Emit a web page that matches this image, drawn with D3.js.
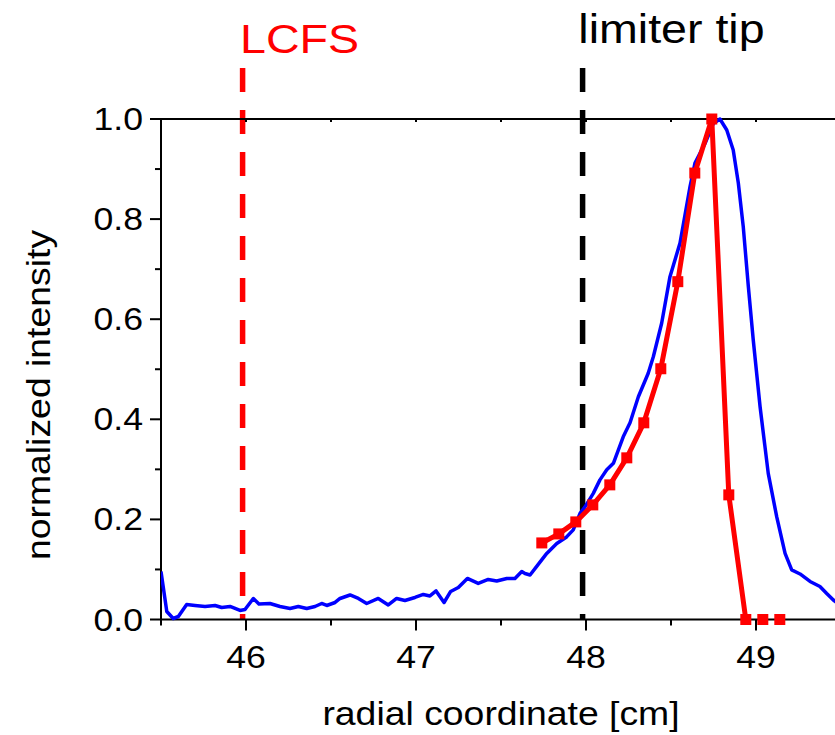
<!DOCTYPE html>
<html>
<head>
<meta charset="utf-8">
<script src="https://cdn.jsdelivr.net/npm/d3@7"></script>
<style>
  body { margin: 0; background: #fff; }
  text { font-family: "Liberation Sans", Arial, sans-serif; }
</style>
</head>
<body>
<svg id="chart" width="835" height="735"></svg>
<script>

// measured profile (blue)
var profileX = [45.50, 45.534, 45.572, 45.602, 45.651, 45.700, 45.759, 45.818, 45.857, 45.906,
    45.965, 45.994, 46.043, 46.076, 46.141, 46.200, 46.259, 46.308, 46.357, 46.406,
    46.445, 46.475, 46.524, 46.553, 46.612, 46.661, 46.710, 46.778, 46.837, 46.886,
    46.935, 46.994, 47.043, 47.082, 47.118, 47.165, 47.204, 47.249, 47.302, 47.366,
    47.425, 47.475, 47.534, 47.582, 47.622, 47.641, 47.671, 47.710, 47.769, 47.828,
    47.886, 47.925, 47.965, 47.994, 48.043, 48.082, 48.122, 48.161, 48.219, 48.259,
    48.308, 48.366, 48.396, 48.445, 48.494, 48.553, 48.612, 48.641, 48.700, 48.749,
    48.788, 48.828, 48.866, 48.896, 48.925, 48.955, 48.984, 49.024, 49.072, 49.122,
    49.171, 49.210, 49.259, 49.318, 49.376, 49.416, 49.455, 49.494];
var profileY = [0.096, 0.016, 0.002, 0.006, 0.030, 0.028, 0.026, 0.028, 0.024, 0.026,
    0.018, 0.020, 0.042, 0.031, 0.032, 0.026, 0.022, 0.026, 0.022, 0.026,
    0.032, 0.028, 0.034, 0.042, 0.049, 0.042, 0.032, 0.042, 0.029, 0.042,
    0.038, 0.044, 0.050, 0.047, 0.057, 0.034, 0.056, 0.064, 0.082, 0.072,
    0.080, 0.077, 0.082, 0.082, 0.096, 0.092, 0.089, 0.106, 0.132, 0.152,
    0.165, 0.179, 0.212, 0.225, 0.252, 0.279, 0.299, 0.312, 0.365, 0.393,
    0.445, 0.492, 0.525, 0.592, 0.685, 0.752, 0.865, 0.912, 0.951, 0.991,
    1.000, 0.978, 0.938, 0.872, 0.785, 0.665, 0.558, 0.425, 0.292, 0.205,
    0.132, 0.099, 0.091, 0.076, 0.066, 0.052, 0.039, 0.029];

// simulation (red squares)
var simX = [47.74, 47.84, 47.94, 48.04, 48.14, 48.24, 48.34, 48.44, 48.54, 48.64,
    48.74, 48.84, 48.94, 49.04, 49.14];
var simY = [0.153, 0.171, 0.195, 0.229, 0.269, 0.323, 0.393, 0.501, 0.675, 0.892,
    1.000, 0.249, 0.000, 0.000, 0.000];
var simLineCount = 13;

var xMajor = [46, 47, 48, 49];
var xMinor = [45.5, 46.5, 47.5, 48.5, 49.5];
var yMajor = [0, 0.2, 0.4, 0.6, 0.8, 1.0];
var yMinor = [0.1, 0.3, 0.5, 0.7, 0.9];

var markers = [
    { x: 45.98, label: 'LCFS', color: '#ff0000', labelX: 45.965, labelY: 53 },
    { x: 47.98, label: 'limiter tip', color: '#000000', labelX: 47.955, labelY: 43 }
];

var svg = d3.select('#chart');

var x = d3.scaleLinear().domain([45.5, 49.5]).range([161, 841]);
var y = d3.scaleLinear().domain([0, 1]).range([619.5, 119]);

var stretch = 1.15;

svg.append('defs').append('clipPath')
    .attr('id', 'plot-clip')
    .append('rect')
    .attr('x', x(45.5)).attr('y', 0)
    .attr('width', 700).attr('height', 735);

// dashed reference lines
svg.selectAll('.ref')
    .data(markers)
    .enter().append('line')
    .attr('class', 'ref')
    .attr('x1', function (d) { return x(d.x); })
    .attr('x2', function (d) { return x(d.x); })
    .attr('y1', 68)
    .attr('y2', y(0))
    .attr('stroke', function (d) { return d.color; })
    .attr('stroke-width', 5.5)
    .attr('stroke-dasharray', '24,18');

svg.selectAll('.ref-label')
    .data(markers)
    .enter().append('text')
    .attr('class', 'ref-label')
    .attr('transform', function (d) {
        return 'translate(' + x(d.labelX) + ',' + d.labelY + ') scale(' + stretch + ',1)';
    })
    .attr('font-size', 40.5)
    .attr('fill', function (d) { return d.color; })
    .text(function (d) { return d.label; });

// axes frame
var frame = svg.append('g').attr('stroke', '#000').attr('stroke-width', 2);

frame.append('line')
    .attr('x1', x(45.5)).attr('x2', x(45.5))
    .attr('y1', y(1)).attr('y2', y(0));
frame.append('line')
    .attr('x1', x(45.5) - 1).attr('x2', 835)
    .attr('y1', y(0)).attr('y2', y(0));
frame.append('line')
    .attr('x1', x(45.5) - 1).attr('x2', 835)
    .attr('y1', y(1)).attr('y2', y(1));

// bottom axis
var xAxis = svg.append('g').attr('transform', 'translate(0,' + y(0) + ')');

xAxis.selectAll('.major')
    .data(xMajor)
    .enter().append('line')
    .attr('x1', x).attr('x2', x)
    .attr('y1', 0).attr('y2', 11)
    .attr('stroke', '#000').attr('stroke-width', 2);

xAxis.selectAll('.minor')
    .data(xMinor)
    .enter().append('line')
    .attr('x1', x).attr('x2', x)
    .attr('y1', 0).attr('y2', 6)
    .attr('stroke', '#000').attr('stroke-width', 2);

xAxis.selectAll('.tick-label')
    .data(xMajor)
    .enter().append('text')
    .attr('transform', function (d) { return 'translate(' + x(d) + ',48) scale(' + stretch + ',1)'; })
    .attr('text-anchor', 'middle')
    .attr('font-size', 31)
    .text(function (d) { return d; });

// top axis ticks (inward)
svg.selectAll('.top-tick')
    .data(xMajor.concat(xMinor))
    .enter().append('line')
    .attr('x1', x).attr('x2', x)
    .attr('y1', y(1)).attr('y2', y(1) + 3)
    .attr('stroke', '#000').attr('stroke-width', 2);

// left axis
var yAxis = svg.append('g').attr('transform', 'translate(' + x(45.5) + ',0)');

yAxis.selectAll('.major')
    .data(yMajor)
    .enter().append('line')
    .attr('x1', -11).attr('x2', 0)
    .attr('y1', y).attr('y2', y)
    .attr('stroke', '#000').attr('stroke-width', 2);

yAxis.selectAll('.minor')
    .data(yMinor)
    .enter().append('line')
    .attr('x1', -6).attr('x2', 0)
    .attr('y1', y).attr('y2', y)
    .attr('stroke', '#000').attr('stroke-width', 2);

yAxis.selectAll('.tick-label')
    .data(yMajor)
    .enter().append('text')
    .attr('transform', function (d) { return 'translate(-18,' + (y(d) + 11) + ') scale(' + stretch + ',1)'; })
    .attr('text-anchor', 'end')
    .attr('font-size', 31)
    .text(function (d) { return d3.format('.1f')(d); });

// axis titles
svg.append('text')
    .attr('transform', 'translate(501,725) scale(' + stretch + ',1)')
    .attr('text-anchor', 'middle')
    .attr('font-size', 32.5)
    .text('radial coordinate [cm]');

svg.append('text')
    .attr('transform', 'translate(50,395) rotate(-90) scale(' + stretch + ',1)')
    .attr('text-anchor', 'middle')
    .attr('font-size', 32.5)
    .text('normalized intensity');

// data
var plot = svg.append('g').attr('clip-path', 'url(#plot-clip)');

var line = d3.line()
    .x(function (d) { return x(d[0]); })
    .y(function (d) { return y(d[1]); });

plot.append('path')
    .datum(d3.zip(profileX, profileY))
    .attr('d', line)
    .attr('fill', 'none')
    .attr('stroke', '#0000ff')
    .attr('stroke-width', 3.5)
    .attr('stroke-linejoin', 'round');

var simPoints = d3.zip(simX, simY);

plot.append('path')
    .datum(simPoints.slice(0, simLineCount))
    .attr('d', line)
    .attr('fill', 'none')
    .attr('stroke', '#ff0000')
    .attr('stroke-width', 5)
    .attr('stroke-linejoin', 'round');

plot.selectAll('.sim-marker')
    .data(simPoints)
    .enter().append('rect')
    .attr('class', 'sim-marker')
    .attr('x', function (d) { return x(d[0]) - 5.5; })
    .attr('y', function (d) { return y(d[1]) - 5.5; })
    .attr('width', 11)
    .attr('height', 11)
    .attr('fill', '#ff0000');

</script>
</body>
</html>
